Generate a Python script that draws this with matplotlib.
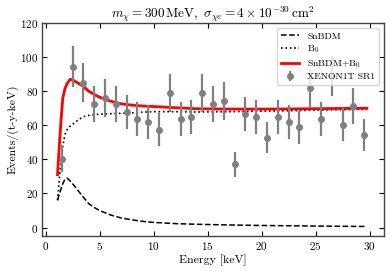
import matplotlib
matplotlib.use("Agg")
import matplotlib.pyplot as plt
import numpy as np

plt.rcParams['font.family'] = 'serif'
plt.rcParams['font.serif'] = ['cmr10', 'DejaVu Serif']
plt.rcParams['mathtext.fontset'] = 'cm'
plt.rcParams['axes.formatter.use_mathtext'] = True
plt.rcParams['axes.unicode_minus'] = False

# XENON1T SR1 data
data_E = [1.5, 2.5, 3.5, 4.5, 5.5, 6.5, 7.5, 8.5, 9.5, 10.5, 11.5, 12.5, 13.5, 14.5, 15.5,
          16.5, 17.5, 18.5, 19.5, 20.5, 21.5, 22.5, 23.5, 24.5, 25.5, 26.5, 27.5, 28.5, 29.5]
data_y = [40.5, 94.3, 85.1, 72.7, 75.9, 72.7, 68.0, 63.5, 62.0, 57.5, 79.0, 63.5, 64.9, 79.0, 72.7,
          74.3, 37.0, 66.5, 64.9, 52.8, 64.9, 62.0, 58.8, 82.0, 63.5, 88.8, 60.4, 71.2, 54.1]
data_err = [8.0, 12.0, 11.5, 10.6, 11.0, 10.6, 10.0, 10.0, 10.0, 9.5, 11.0, 10.0, 10.0, 11.0, 10.6,
            11.0, 7.5, 10.0, 10.0, 9.0, 10.0, 10.0, 9.8, 11.2, 10.0, 11.8, 9.8, 10.4, 9.3]

# Model curves
curve_E = [1.11, 1.3, 1.45, 1.6, 1.8, 2.0, 2.29, 2.6, 3.0, 3.5, 4.0, 4.5, 5.0, 6.0, 7.0, 8.0,
           9.0, 10.0, 12.0, 14.0, 17.0, 20.0, 23.0, 26.0, 29.75]
snbdm = [16.0, 20.0, 23.0, 25.8, 28.3, 29.0, 27.3, 25.0, 21.8, 17.8, 14.0, 11.8, 10.0, 7.4, 5.6, 4.5,
         3.6, 3.0, 2.3, 1.9, 1.5, 1.2, 1.0, 0.8, 0.6]
b0 = [16.0, 30.0, 39.0, 48.0, 54.5, 57.5, 59.5, 61.0, 63.0, 65.0, 65.8, 66.3, 66.5, 66.8, 67.0, 67.3,
      67.7, 68.0, 68.0, 67.8, 68.0, 68.3, 68.6, 69.0, 69.4]
total = [31.0, 50.0, 64.0, 76.0, 81.5, 84.5, 87.0, 86.3, 84.8, 82.8, 80.0, 78.1, 76.5, 74.2, 72.6, 71.8,
         71.3, 71.0, 70.3, 69.7, 69.5, 69.5, 69.6, 69.8, 70.0]

fig = plt.figure(figsize=(3.9, 2.71), dpi=100)
ax = fig.add_axes([0.107, 0.129, 0.878, 0.786])

ax.plot(curve_E, snbdm, color='black', ls='--', lw=1.1, label='SnBDM')
ax.plot(curve_E, b0, color='black', ls=':', lw=1.2, label=r'B$_0$')
ax.plot(curve_E, total, color='red', ls='-', lw=2.0, label=r'SnBDM+B$_0$')
ax.errorbar(data_E, data_y, yerr=data_err, fmt='o', color='grey', ms=4, elinewidth=1.6,
            capsize=0, label='XENON1T SR1')

ax.set_xlim(-0.35, 31.35)
ax.set_ylim(-5, 120)
ax.set_xticks([0, 5, 10, 15, 20, 25, 30])
ax.set_yticks([0, 20, 40, 60, 80, 100, 120])
ax.tick_params(direction='in', top=True, right=True, labelsize=8, length=3.5, width=0.8, pad=2.5)
for s in ax.spines.values():
    s.set_linewidth(1.0)
    s.set_color('#444444')

ax.set_xlabel('Energy [keV]', fontsize=8.5, labelpad=2)
ax.set_ylabel('Events/(t-y-keV)', fontsize=8.5, labelpad=1)
ax.set_title(r'$m_\chi = 300\,\mathrm{MeV},\ \sigma_{\chi e} = 4\times10^{-30}\,\mathrm{cm}^2$',
             fontsize=9.5, pad=4)

ax.legend(loc='upper right', fontsize=7, frameon=True, handlelength=1.9, borderpad=0.4,
          labelspacing=0.3, framealpha=0.8)

fig.savefig('out.png', dpi=100)
